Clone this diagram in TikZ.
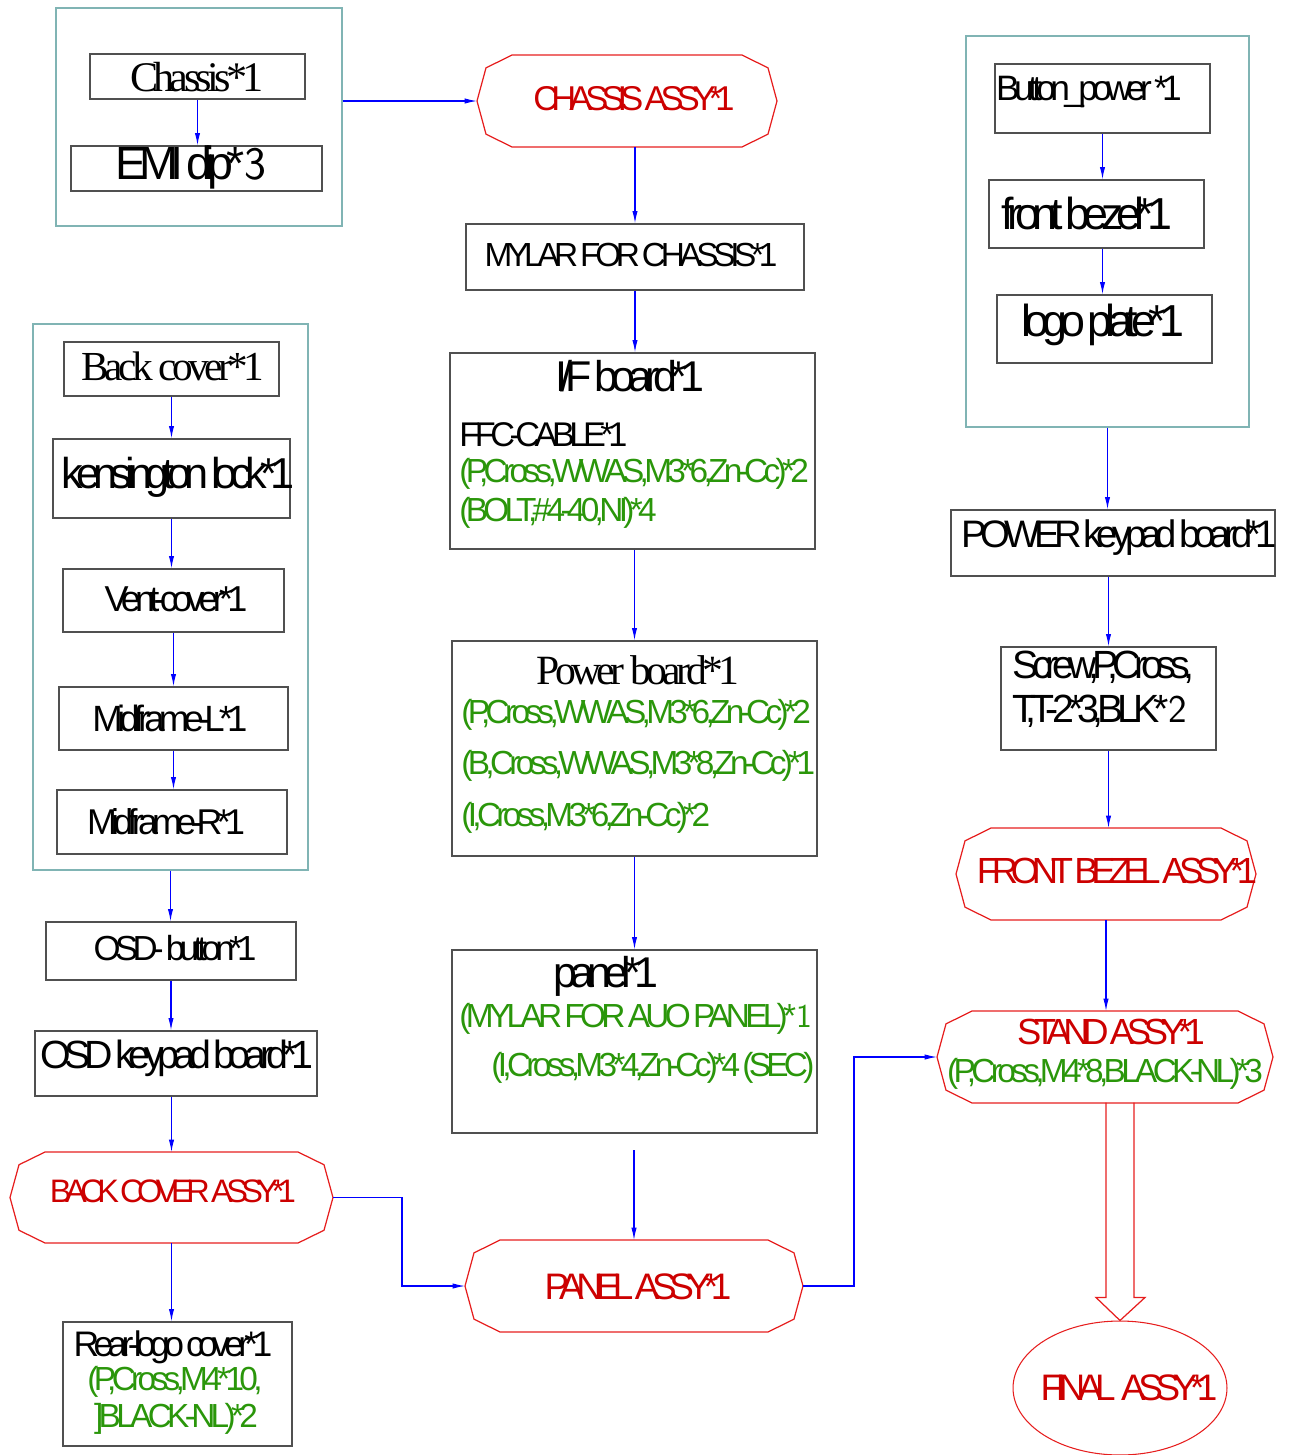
\documentclass[tikz,border=0pt]{standalone}
\usepackage{fontspec}
\setmainfont{Liberation Sans}
\newfontfamily\arialtight[LetterSpace=-16, WordSpace=0.5]{Liberation Sans}
\newfontfamily\greentight[LetterSpace=-14, WordSpace=0.5]{Liberation Sans}
\newfontfamily\timestight[LetterSpace=-11]{Liberation Serif}
\newfontfamily\redtight[LetterSpace=-20, WordSpace=0.5]{Liberation Sans}
\usepackage{xcolor}
\usetikzlibrary{arrows.meta}
\usetikzlibrary{fit}
\usetikzlibrary{shapes.geometric}

\definecolor{boxgray}{RGB}{80,80,80}
\definecolor{frameteal}{RGB}{128,180,180}
\definecolor{arrowblue}{RGB}{0,0,255}
\definecolor{assyred}{RGB}{230,30,30}
\definecolor{assytextred}{RGB}{204,0,0}
\definecolor{specgreen}{RGB}{42,150,10}

\tikzset{>={Latex[length=7pt,width=3pt]}}
\tikzset{
	part/.style={draw=boxgray, line width=0.8pt, inner sep=0pt},
	grp/.style={draw=frameteal, line width=0.8pt, inner sep=0pt},
	flow/.style={->, draw=arrowblue, line width=0.6pt},
	assyline/.style={draw=assyred, line width=0.7pt},
	lbl/.style={inner sep=0pt, font=\arialtight\fontsize{#1}{#1}\selectfont},
	sertxt/.style={inner sep=0pt, font=\timestight\fontsize{#1}{#1}\selectfont},
	spec/.style={inner sep=0pt, text=specgreen, font=\greentight\fontsize{#1}{#1}\selectfont},
	assytxt/.style={inner sep=0pt, text=assytextred, font=\redtight\fontsize{#1}{#1}\selectfont}
}

% octagon of an assembly: name, cx, cy, half width, half height
\newcommand{\assybox}[5]{%
	\draw[assyline] ({#2-#4},#3) -- ({#2-#4+9},{#3-0.72*#5}) -- ({#2-#4+35},{#3-#5})
	-- ({#2+#4-35},{#3-#5}) -- ({#2+#4-9},{#3-0.72*#5}) -- ({#2+#4},#3)
	-- ({#2+#4-9},{#3+0.72*#5}) -- ({#2+#4-35},{#3+#5})
	-- ({#2-#4+35},{#3+#5}) -- ({#2-#4+9},{#3+0.72*#5}) -- cycle;
	\coordinate (#1-w) at ({#2-#4},#3);
	\coordinate (#1-e) at ({#2+#4},#3);
	\coordinate (#1-n) at (#2,{#3-#5});
	\coordinate (#1-s) at (#2,{#3+#5});
}

\begin{document}
\begin{tikzpicture}[x=0.02cm, y=-0.02cm]
	\useasboundingbox (0,0) rectangle (1289,1455);

	% Chassis
	\node[grp, fit={(56,8) (342,226)}] (g1) {};
	\node[part, fit={(90,54) (305,99)}] (chassis) {};
	\node[part, fit={(71,146) (322,191)}] (emi) {};
	\node[sertxt=24] (chassis-t) at (197,77) {Chassis*1};
	\node[lbl=26.5] (emi-t) at (191,167) {EMI dip*{\sffamily 3}};

	% Back cover
	\node[grp, fit={(33,324) (308,870)}] (g2) {};
	\node[part, fit={(64,342) (279,396)}] (back) {};
	\node[part, fit={(53,439) (290,518)}] (kens) {};
	\node[part, fit={(63,569) (284,632)}] (vent) {};
	\node[part, fit={(59,687) (288,750)}] (midl) {};
	\node[part, fit={(57,790) (287,854)}] (midr) {};
	\node[sertxt=23.5] (back-t) at (173,366) {Back cover*1};
	\node[lbl=24.6] (kens-t) at (178,477) {kensington lock*1};
	\node[lbl=20.5] (vent-t) at (176,599) {Vent-cover*1};
	\node[lbl=20.8] (midl-t) at (170,718) {Midframe-L*1};
	\node[lbl=20.4] (midr-t) at (166,822) {Midframe-R*1};

	\node[part, fit={(46,922) (296,980)}] (osdb) {};
	\node[part, fit={(35,1031) (317,1096)}] (osdk) {};
	\node[lbl=19.8] (osdb-t) at (175,948) {OSD- button*1};
	\node[lbl=22.4] (osdk-t) at (177,1058) {OSD keypad board*1};

	\assybox{bca}{171.5}{1197.5}{161.5}{45.5}
	\node[assytxt=18.5] (bca-t) at (173,1191) {BACK COVER ASSY*1};

	\node[part, fit={(63,1322) (292,1446)}] (rear) {};
	\node[lbl=20.2] (rear-t) at (173,1347) {Rear-logo cover*1};
	\node[spec=19] (rear-s1) at (175,1382) {(P,Cross,M4*10,};
	\node[spec=19] (rear-s2) at (176,1419) {]BLACK-NL)*2};

	% Chassis assy and boards
	\assybox{cas}{627}{101}{150}{46}
	\node[assytxt=19.6] (cas-t) at (634,99) {CHASSIS ASSY*1};

	\node[part, fit={(466,224) (804,290)}] (mylar) {};
	\node[lbl=19] (mylar-t) at (631,255) {MYLAR FOR CHASSIS*1};

	\node[part, fit={(450,353) (815,549)}] (ifb) {};
	\node[lbl=24.5] (ifb-t) at (630,376) {I/F board*1};
	\node[lbl=19.5, anchor=west] (ifb-c) at (459,435) {FFC-CABLE*1};
	\node[spec=19, anchor=west] (ifb-s1) at (459,474) {(P,Cross,WWAS,M3*6,Zn-Cc)*2};
	\node[spec=19, anchor=west] (ifb-s2) at (459,513) {(BOLT,\#4-40,NI)*4};

	\node[part, fit={(452,641) (817,856)}] (pwr) {};
	\node[sertxt=23.7] (pwr-t) at (638,670) {Power board*1};
	\node[spec=19, anchor=west] (pwr-s1) at (461,715) {(P,Cross,WWAS,M3*6,Zn-Cc)*2};
	\node[spec=19, anchor=west] (pwr-s2) at (461,766) {(B,Cross,WWAS,M3*8,Zn-Cc)*1};
	\node[spec=19, anchor=west] (pwr-s3) at (461,818) {(I,Cross,M3*6,Zn-Cc)*2};

	\node[part, fit={(452,950) (817,1133)}] (panel) {};
	\node[lbl=24.5] (panel-t) at (606,976) {panel*1};
	\node[spec=19, anchor=west] (panel-s1) at (459,1019) {(MYLAR FOR AUO PANEL)*{\sffamily 1}};
	\node[spec=19, anchor=west] (panel-s2) at (491,1068) {(I,Cross,M3*4,Zn-Cc)*4 (SEC)};
	\coordinate (gap) at (634,1150);

	\assybox{pa}{634}{1286}{169}{46}
	\node[assytxt=21] (pa-t) at (638,1287) {PANEL ASSY*1};

	% Front bezel
	\node[grp, fit={(966,36) (1249,427)}] (g3) {};
	\node[part, fit={(995,64) (1210,133)}] (btn) {};
	\node[part, fit={(989,180) (1204,248)}] (bez) {};
	\node[part, fit={(997,295) (1212,363)}] (logo) {};
	\node[lbl=20.1] (btn-t) at (1089,92) {Button\_power *1};
	\node[lbl=25.5] (bez-t) at (1087,213) {front bezel*1};
	\node[lbl=25.5] (logo-t) at (1103,325) {logo plate*1};

	\node[part, fit={(951,510) (1275,576)}] (pkey) {};
	\node[lbl=21.8] (pkey-t) at (1119,538) {POWER keypad board*1};

	\node[part, fit={(1001,647) (1216,750)}] (screw) {};
	\node[lbl=22.4, anchor=west] (screw-t1) at (1012,667) {Screw,P,Cross,};
	\node[lbl=22.4, anchor=west] (screw-t2) at (1012,711) {T,T-2*3,BLK*{\sffamily 2}};

	\assybox{fba}{1106}{874}{150}{46}
	\node[assytxt=20.7] (fba-t) at (1117,871) {FRONT BEZEL ASSY*1};

	\assybox{sa}{1105}{1057}{168}{46}
	\node[assytxt=20.7] (sa-t) at (1111,1032) {STAND ASSY*1};
	\node[spec=19] (sa-s) at (1105,1074) {(P,Cross,M4*8,BLACK-NL)*3};

	\node[draw=assyred, line width=0.6pt, ellipse, inner sep=0pt,
	minimum width=4.28cm, minimum height=2.68cm] (final) at (1120,1388) {};
	\node[assytxt=21] (final-t) at (1129,1388) {FINAL\hspace{0.15em}ASSY*1};

	% hollow arrow
	\draw[assyline] (final.north) -- ++(-24,-23) -- ++(10,0) -- ++(0,-195);
	\draw[assyline] (final.north) -- ++(25,-23) -- ++(-11,0) -- ++(0,-195);

	% connectors
	\draw[flow] (chassis.south) -- (chassis.south |- emi.north);
	\draw[flow] (g1.east |- cas-w) -- (cas-w);
	\draw[flow] (back.south) -- (back.south |- kens.north);
	\draw[flow] (kens.south) -- (kens.south |- vent.north);
	\draw[flow] (vent.south) -- (vent.south |- midl.north);
	\draw[flow] (midl.south) -- (midl.south |- midr.north);
	\draw[flow] (g2.south) -- (g2.south |- osdb.north);
	\draw[flow] (osdb.south) -- (osdb.south |- osdk.north);
	\draw[flow] (bca-n |- osdk.south) -- (bca-n);
	\draw[flow] (bca-s) -- (bca-s |- rear.north);
	\draw[flow] (bca-e) -- ++(69,0) |- (pa-w);

	\draw[flow] (mylar.north |- cas-s) -- (mylar.north);
	\draw[flow] (mylar.south) -- (mylar.south |- ifb.north);
	\draw[flow] (pwr.north |- ifb.south) -- (pwr.north);
	\draw[flow] (pwr.south) -- (pwr.south |- panel.north);
	\draw[flow] (gap) -- (gap |- pa-n);
	\draw[flow] (pa-e) -- ++(51,0) |- (sa-w);

	\draw[flow] (btn.south) -- (btn.south |- bez.north);
	\draw[flow] (btn.south |- bez.south) -- (btn.south |- logo.north);
	\draw[flow] (g3.south) -- (g3.south |- pkey.north);
	\draw[flow] (screw.north |- pkey.south) -- (screw.north);
	\draw[flow] (screw.south) -- (screw.south |- fba-n);
	\draw[flow] (fba-s) -- (fba-s |- sa-n);

\end{tikzpicture}
\end{document}
